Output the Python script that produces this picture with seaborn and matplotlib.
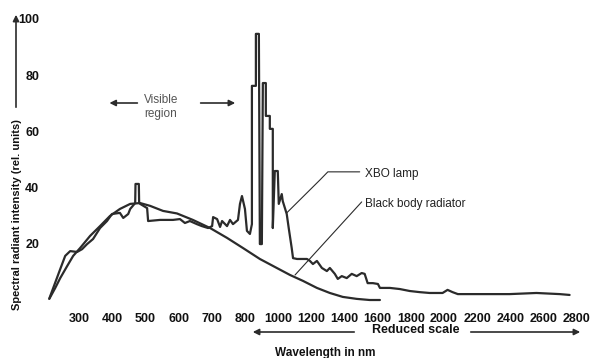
import numpy as np
import matplotlib
matplotlib.use("Agg")
import matplotlib.pyplot as plt
import seaborn as sns

# wavelength ticks: 100 nm steps up to 800, then 200 nm steps (reduced scale)
tick_nm = [300, 400, 500, 600, 700, 800, 1000, 1200, 1400, 1600,
           1800, 2000, 2200, 2400, 2600, 2800]
y_ticks = [20, 40, 60, 80, 100]

# XBO lamp spectrum
lamp_nm = [210, 243, 258, 273, 294, 309, 324, 342, 363, 384, 399, 423, 433, 448,
           454, 469, 470, 480, 481, 484, 505, 508, 544, 583, 604, 619, 634, 655,
           670, 689, 701, 704, 716, 725, 731, 746, 755, 764, 779, 785, 791, 800,
           812, 830, 842, 842, 866, 866, 884, 890, 902, 908, 926, 926, 950, 950,
           968, 968, 980, 998, 1004, 1022, 1028, 1052, 1064, 1082, 1090, 1114,
           1174, 1192, 1210, 1234, 1264, 1294, 1312, 1342, 1360, 1384, 1414,
           1444, 1474, 1504, 1522, 1540, 1572, 1602, 1614, 1674, 1734, 1794,
           1854, 1914, 1992, 2022, 2052, 2084, 2198, 2396, 2558, 2698, 2758]
lamp_val = [0.5, 11.0, 15.7, 17.4, 17.1, 18.1, 19.9, 21.7, 25.6, 28.1, 30.6, 31.0,
            29.2, 30.6, 32.4, 34.5, 41.3, 41.3, 34.5, 34.2, 32.7, 28.1, 28.5, 28.5,
            28.8, 27.4, 28.1, 27.0, 26.3, 25.6, 26.3, 29.5, 28.8, 26.0, 28.1, 26.3,
            28.5, 27.0, 28.5, 34.2, 37.0, 32.4, 24.6, 23.5, 27.0, 76.2, 76.2, 94.7,
            94.7, 19.9, 19.9, 77.2, 77.2, 65.5, 65.5, 60.9, 60.9, 25.6, 45.9, 45.9,
            34.2, 37.7, 35.2, 30.6, 25.6, 18.5, 14.9, 14.6, 14.6, 13.9, 12.8, 13.9,
            11.4, 10.3, 11.4, 9.3, 7.5, 8.5, 7.8, 9.3, 8.5, 9.6, 9.3, 6.0, 6.0, 5.7,
            4.3, 4.3, 3.9, 3.2, 2.8, 2.5, 2.5, 3.6, 2.8, 2.1, 2.1, 2.1, 2.5, 2.1, 1.8]

# black body radiator curve
bb_nm = [210, 228, 243, 264, 282, 303, 333, 363, 393, 423, 454, 484, 514, 553,
         595, 643, 695, 746, 794, 890, 992, 1072, 1150, 1234, 1312, 1390, 1474,
         1552, 1614]
bb_val = [0.4, 4.3, 7.8, 12.1, 15.7, 18.5, 22.8, 26.3, 29.9, 32.4, 34.2, 34.5,
          33.5, 31.7, 30.8, 28.5, 25.6, 22.1, 18.5, 14.6, 11.4, 8.9, 6.8, 4.3,
          2.5, 1.1, 0.4, 0.0, 0.0]


def fwd(x):
    x = np.asarray(x, dtype=float)
    return np.where(x <= 800, x, 800 + (x - 800) / 2)


def inv(p):
    p = np.asarray(p, dtype=float)
    return np.where(p <= 800, p, 800 + (p - 800) * 2)


sns.set_style("white")
plt.rcParams["font.family"] = ["Liberation Sans", "DejaVu Sans"]

ink = "#2b2b2b"
fig = plt.figure(figsize=(5.97, 3.58), dpi=100)
ax = fig.add_axes([0.077, 0.162, 0.911, 0.785])
ax.set_xscale("function", functions=(fwd, inv))

sns.lineplot(x=bb_nm, y=bb_val, ax=ax, color=ink, lw=1.6, sort=False,
             estimator=None, clip_on=False)
sns.lineplot(x=lamp_nm, y=lamp_val, ax=ax, color=ink, lw=1.6, sort=False,
             estimator=None, clip_on=False)

ax.set_xlim(200, 2880)
ax.set_ylim(0, 100)
ax.set_xticks(tick_nm)
ax.set_xticklabels([str(t) for t in tick_nm], fontweight="bold", fontsize=9, color="#111")
ax.xaxis.set_minor_locator(matplotlib.ticker.NullLocator())
ax.set_yticks(y_ticks)
ax.set_yticklabels([str(t) for t in y_ticks], fontweight="bold", fontsize=9, color="#111")
ax.tick_params(axis="x", length=0, pad=9)
ax.tick_params(axis="y", length=0, pad=5)
ax.set_xlabel("")
ax.set_ylabel("")
sns.despine(ax=ax, left=True, bottom=True)

# annotations inside the plot
arrow = dict(arrowstyle="-|>", color=ink, lw=1.2, mutation_scale=9)
ax.annotate("", xy=(383, 70.1), xytext=(484, 70.1), arrowprops=arrow)
ax.annotate("", xy=(779, 70.1), xytext=(658, 70.1), arrowprops=arrow)
ax.text(547, 68.8, "Visible\nregion", ha="center", va="center", fontsize=8.5,
        color="#555", linespacing=1.25)

ax.plot([1052, 1252, 1300, 1492], [31.0, 42.7, 45.6, 45.6], color=ink, lw=0.8)
ax.text(1522, 44.8, "XBO lamp", ha="left", va="center", fontsize=8.5, color="#222")
ax.plot([1102, 1504], [8.9, 34.9], color=ink, lw=0.8)
ax.text(1522, 34.0, "Black body radiator", ha="left", va="center", fontsize=8.5, color="#222")

# reduced-scale note below the axis
H = 358
ax.annotate("", xy=(250, H - 332), xytext=(357, H - 332), xycoords="figure pixels",
            textcoords="figure pixels", arrowprops=arrow)
ax.annotate("", xy=(583, H - 332), xytext=(468, H - 332), xycoords="figure pixels",
            textcoords="figure pixels", arrowprops=arrow)
fig.text(416 / 597, (H - 330) / H, "Reduced scale", ha="center", va="center",
         fontsize=9, fontweight="bold", color="#111")
fig.text(325 / 597, (H - 353) / H, "Wavelength in nm", ha="center", va="center",
         fontsize=8.5, fontweight="bold", color="#111")

# y label with upward arrow
fig.text(17 / 597, (H - 215) / H, "Spectral radiant intensity (rel. units)", rotation=90,
         ha="center", va="center", fontsize=8, fontweight="bold", color="#111")
ax.annotate("", xy=(16, H - 12), xytext=(16, H - 110), xycoords="figure pixels",
            textcoords="figure pixels", arrowprops=arrow)

fig.savefig("out.png", dpi=100)
